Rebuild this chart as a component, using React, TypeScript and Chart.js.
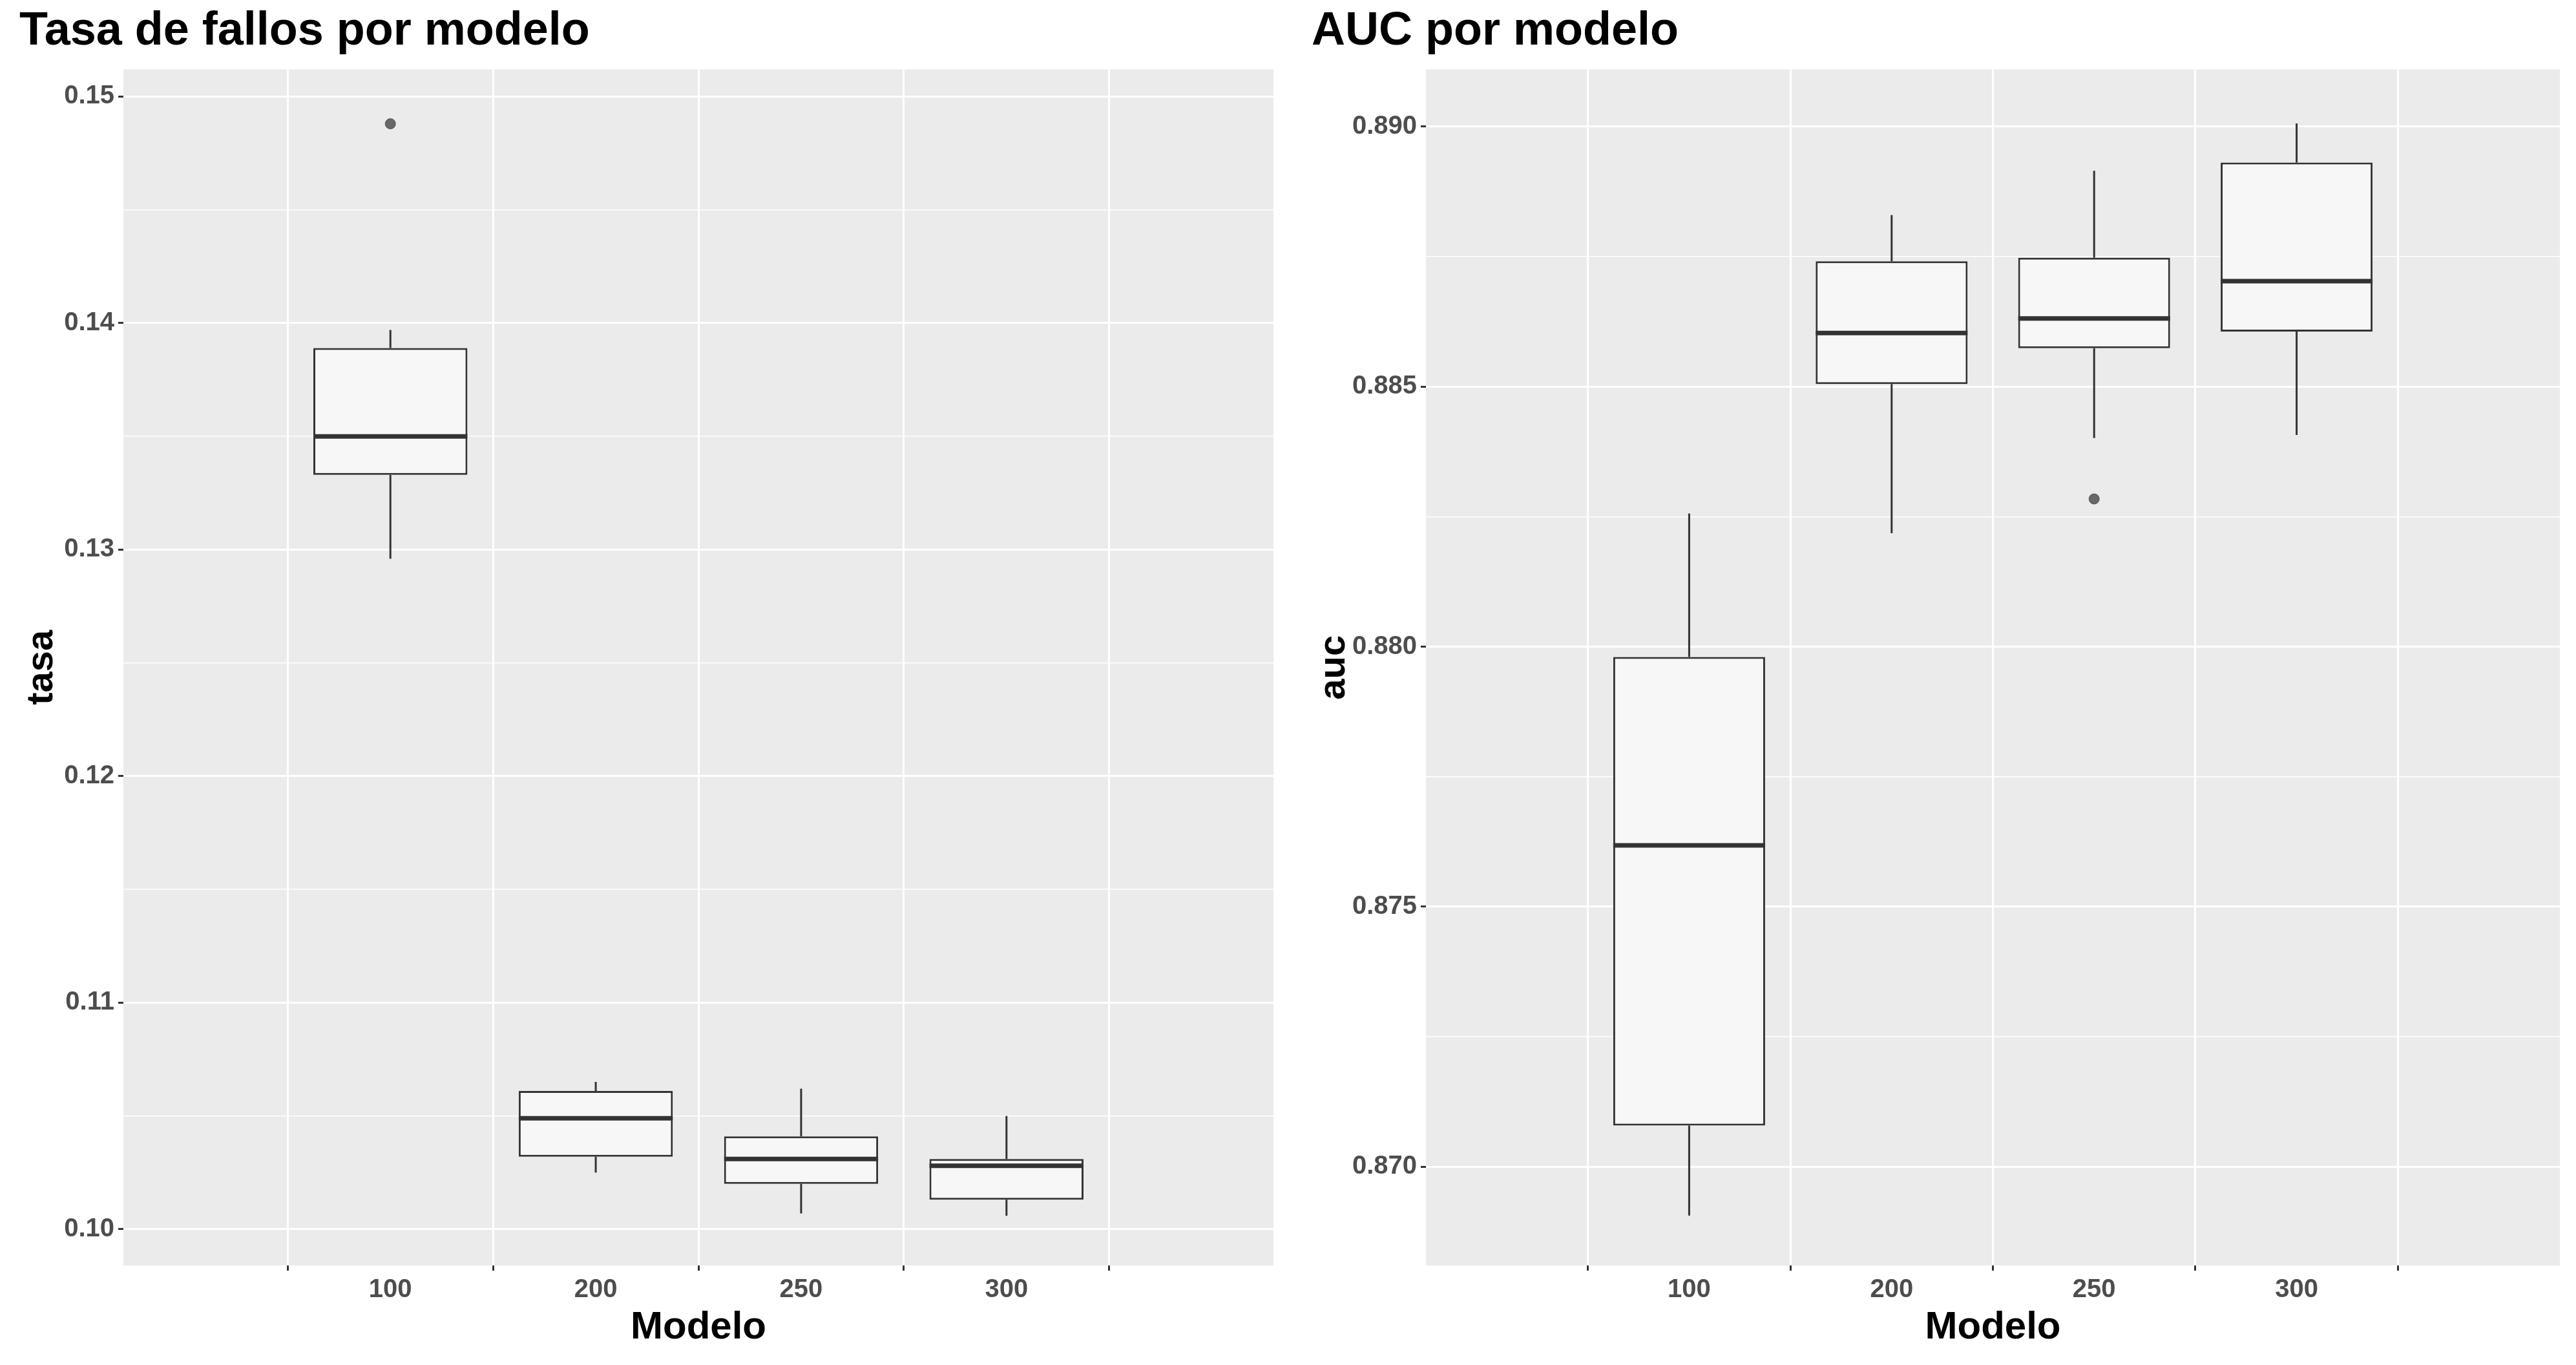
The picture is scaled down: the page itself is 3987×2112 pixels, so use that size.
import React, { useEffect, useRef } from "react";
import { Chart, registerables } from "chart.js";
Chart.register(...registerables);

const models = ["100", "200", "250", "300"];
// Tasa de fallos
const tasaLow = [0.1296, 0.1025, 0.1007, 0.1006];
const tasaQ1 = [0.1333, 0.1032, 0.1020, 0.1013];
const tasaMed = [0.1350, 0.1049, 0.1031, 0.1028];
const tasaQ3 = [0.1389, 0.1061, 0.1041, 0.1031];
const tasaHigh = [0.1397, 0.1065, 0.1062, 0.1050];
const tasaOut = [0.1488, null, null, null];
// AUC
const aucLow = [0.86906, 0.88218, 0.88401, 0.88407];
const aucQ1 = [0.87079, 0.88505, 0.88574, 0.88606];
const aucMed = [0.87618, 0.88603, 0.88631, 0.88703];
const aucQ3 = [0.8798, 0.88741, 0.88748, 0.88931];
const aucHigh = [0.88256, 0.8883, 0.88915, 0.89006];
const aucOut = [null, null, 0.88284, null];

type Cfg = {
  title: string; ytitle: string; low: number[]; q1: number[]; med: number[]; q3: number[]; high: number[];
  out: (number | null)[]; min: number; max: number; step: number; major: number; dec: number; leftW: number;
};

const FONT = "Liberation Sans, Arial";

function makeChart(canvas: HTMLCanvasElement, c: Cfg) {
  const boxPlugin = {
    id: "boxextra",
    beforeDraw(chart: any) {
      const a = chart.chartArea;
      const ctx = chart.ctx;
      ctx.save();
      ctx.fillStyle = "#EBEBEB";
      ctx.fillRect(a.left, a.top, a.right - a.left, a.bottom - a.top);
      ctx.restore();
    },
    afterDatasetsDraw(chart: any) {
      const ctx = chart.ctx;
      const xs = chart.scales.x, ys = chart.scales.y;
      const meta = chart.getDatasetMeta(0);
      ctx.save();
      ctx.strokeStyle = "#333333";
      c.low.forEach((_, i) => {
        const x = xs.getPixelForValue(i);
        const bw = meta.data[i].width;
        ctx.lineWidth = 3;
        ctx.beginPath();
        ctx.moveTo(x, ys.getPixelForValue(c.low[i]));
        ctx.lineTo(x, ys.getPixelForValue(c.q1[i]));
        ctx.moveTo(x, ys.getPixelForValue(c.q3[i]));
        ctx.lineTo(x, ys.getPixelForValue(c.high[i]));
        ctx.stroke();
        ctx.lineWidth = 7;
        ctx.beginPath();
        const ym = ys.getPixelForValue(c.med[i]);
        ctx.moveTo(x - bw / 2, ym);
        ctx.lineTo(x + bw / 2, ym);
        ctx.stroke();
      });
      ctx.restore();
    },
  };
  const isMajor = (v: number) => Math.abs(v / c.major - Math.round(v / c.major)) < 1e-6;
  return new Chart(canvas, {
    type: "bar",
    data: {
      datasets: [
        {
          type: "bar",
          data: c.q1.map((v, i) => ({ x: i, y: [v, c.q3[i]] })) as any,
          backgroundColor: "#F7F7F7",
          borderColor: "#333333",
          borderWidth: 3,
          borderSkipped: false,
          barPercentage: 0.75,
          categoryPercentage: 1,
        },
        {
          type: "line",
          data: c.out.map((v, i) => ({ x: i, y: v })) as any,
          showLine: false,
          pointRadius: 8,
          pointBackgroundColor: "rgba(60,60,60,0.75)",
          pointBorderColor: "rgba(60,60,60,0.75)",
        },
      ],
    },
    options: {
      animation: false,
      responsive: false,
      layout: { padding: { left: 30, right: 25, top: 0, bottom: 22 } },
      plugins: {
        legend: { display: false },
        tooltip: { enabled: false },
        title: {
          display: true, text: c.title, align: "start", color: "#000",
          font: { family: FONT, size: 72, weight: "bold" },
          padding: { top: 6, bottom: 15 },
        },
      },
      scales: {
        x: {
          type: "linear",
          min: -0.6, max: 3.6,
          grid: { color: "#FFFFFF", lineWidth: 3, drawTicks: true, tickColor: "#333", tickLength: 8 },
          border: { display: false },
          afterBuildTicks: (s: any) => { s.ticks = models.map((_, i) => ({ value: i })); },
          ticks: {
            color: "#4D4D4D", font: { family: FONT, size: 40, weight: "bold" }, padding: 6, autoSkip: false,
            callback: (v: any) => models[Math.round(+v)] ?? "",
          },
          title: { display: true, text: "Modelo", color: "#000", font: { family: FONT, size: 60, weight: "bold" }, padding: { top: 0, bottom: 0 } },
          afterFit: (s: any) => { s.height = 132; },
        },
        y: {
          min: c.min, max: c.max,
          grid: {
            color: "#FFFFFF",
            lineWidth: (ctx: any) => (isMajor(ctx.tick?.value ?? 0) ? 3 : 1.5),
            tickColor: (ctx: any) => (isMajor(ctx.tick?.value ?? 0) ? "#333" : "rgba(0,0,0,0)"),
            tickLength: 8,
          },
          border: { display: false },
          afterBuildTicks: (s: any) => {
            const t = [];
            for (let v = Math.ceil(c.min / c.step) * c.step; v <= c.max + 1e-9; v += c.step) t.push({ value: +v.toFixed(6) });
            s.ticks = t;
          },
          ticks: {
            color: "#4D4D4D",
            font: { family: FONT, size: 40, weight: "bold" },
            padding: 6,
            autoSkip: false,
            callback: (v: any) => (isMajor(+v) ? (+v).toFixed(c.dec) : ""),
          },
          title: { display: true, text: c.ytitle, color: "#000", font: { family: FONT, size: 58, weight: "bold" }, padding: { top: 0, bottom: 10 } },
          afterFit: (s: any) => { s.width = c.leftW; },
        },
      },
    },
    plugins: [boxPlugin],
  } as any);
}

function Panel({ cfg, left, width }: { cfg: Cfg; left: number; width: number }) {
  const ref = useRef<HTMLCanvasElement>(null);
  useEffect(() => {
    const ch = makeChart(ref.current!, cfg);
    return () => ch.destroy();
  }, []);
  return <canvas ref={ref} width={width} height={2112} style={{ position: "absolute", left, top: 0, width, height: 2112 }} />;
}

export default function App() {
  const left: Cfg = { title: "Tasa de fallos por modelo", ytitle: "tasa", low: tasaLow, q1: tasaQ1, med: tasaMed, q3: tasaQ3, high: tasaHigh, out: tasaOut, min: 0.0984, max: 0.1512, step: 0.005, major: 0.01, dec: 2, leftW: 161 };
  const right: Cfg = { title: "AUC por modelo", ytitle: "auc", low: aucLow, q1: aucQ1, med: aucMed, q3: aucQ3, high: aucHigh, out: aucOut, min: 0.8681, max: 0.8911, step: 0.0025, major: 0.005, dec: 3, leftW: 177 };
  return (
    <div style={{ position: "absolute", left: 0, top: 0, width: 3987, height: 2112, background: "#fff", overflow: "hidden" }}>
      <Panel cfg={left} left={0} width={1996} />
      <Panel cfg={right} left={2000} width={3987 - 2000} />
    </div>
  );
}
